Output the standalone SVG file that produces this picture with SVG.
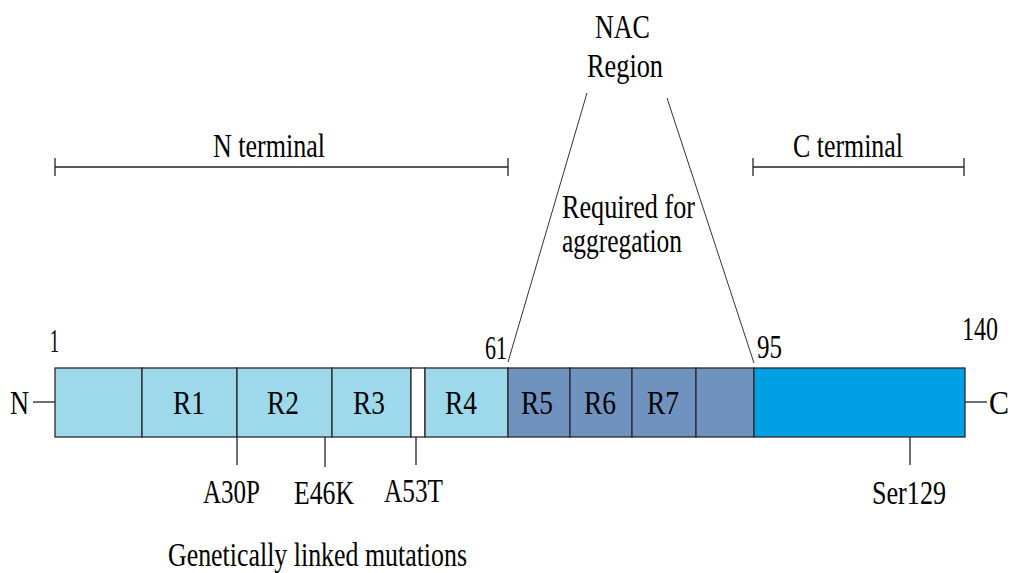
<svg xmlns="http://www.w3.org/2000/svg" width="1011" height="573" viewBox="0 0 1011 573" font-family="'Liberation Serif', 'DejaVu Serif', 'Times New Roman', serif">
<style>
text{font-size:34px;fill:#000}
.ln{stroke:#222;stroke-width:1.3;fill:none}
.thin{stroke:#333;stroke-width:1;fill:none}
.seg{stroke:#2a2a2a;stroke-width:1.3}
.lb{fill:#9dd9ea}
.db{fill:#7092bf}
.bb{fill:#00a1e4}
</style>
<rect width="1011" height="573" fill="#fff"/>
<g id="connectors">
<line class="ln" x1="33" y1="402" x2="55" y2="402"/>
<line class="ln" x1="965" y1="402" x2="987" y2="402"/>
<line class="ln" x1="237" y1="437" x2="237" y2="465"/>
<line class="ln" x1="325" y1="437" x2="325" y2="467"/>
<line class="ln" x1="416" y1="437" x2="416" y2="465"/>
<line class="ln" x1="910" y1="437" x2="910" y2="465"/>
<line class="thin" x1="587" y1="93" x2="508" y2="362"/>
<line class="thin" x1="667" y1="98" x2="754" y2="363"/>
<line class="ln" x1="55" y1="167" x2="508" y2="167"/>
<line class="ln" x1="55" y1="158" x2="55" y2="176"/>
<line class="ln" x1="508" y1="158" x2="508" y2="176"/>
<line class="ln" x1="753" y1="167" x2="964" y2="167"/>
<line class="ln" x1="753" y1="158" x2="753" y2="176"/>
<line class="ln" x1="964" y1="158" x2="964" y2="176"/>
</g>
<g id="seg0"><rect class="lb seg" x="55" y="368" width="87" height="69"/></g>
<g id="R1"><rect class="lb seg" x="142" y="368" width="95" height="69"/><text x="189" y="414" text-anchor="middle" textLength="32" lengthAdjust="spacingAndGlyphs">R1</text></g>
<g id="R2"><rect class="lb seg" x="237" y="368" width="95" height="69"/><text x="283" y="414" text-anchor="middle" textLength="32" lengthAdjust="spacingAndGlyphs">R2</text></g>
<g id="R3"><rect class="lb seg" x="332" y="368" width="79" height="69"/><text x="369" y="414" text-anchor="middle" textLength="32" lengthAdjust="spacingAndGlyphs">R3</text></g>
<g id="gap"><rect x="411" y="368" width="14" height="69" fill="#fff" class="seg"/></g>
<g id="R4"><rect class="lb seg" x="425" y="368" width="83" height="69"/><text x="461" y="414" text-anchor="middle" textLength="32" lengthAdjust="spacingAndGlyphs">R4</text></g>
<g id="R5"><rect class="db seg" x="508" y="368" width="62" height="69"/><text x="537" y="414" text-anchor="middle" textLength="32" lengthAdjust="spacingAndGlyphs">R5</text></g>
<g id="R6"><rect class="db seg" x="570" y="368" width="62" height="69"/><text x="600" y="414" text-anchor="middle" textLength="32" lengthAdjust="spacingAndGlyphs">R6</text></g>
<g id="R7"><rect class="db seg" x="632" y="368" width="64" height="69"/><text x="663" y="414" text-anchor="middle" textLength="32" lengthAdjust="spacingAndGlyphs">R7</text></g>
<g id="seg8"><rect class="db seg" x="696" y="368" width="58" height="69"/></g>
<g id="cterm-bar"><rect class="bb seg" x="754" y="368" width="211" height="69"/></g>
<g id="labels">
<text x="10" y="414" textLength="19" lengthAdjust="spacingAndGlyphs">N</text>
<text x="989" y="414" textLength="20" lengthAdjust="spacingAndGlyphs">C</text>
<text x="50" y="352" textLength="9" lengthAdjust="spacingAndGlyphs">1</text>
<text x="485" y="359" textLength="22" lengthAdjust="spacingAndGlyphs">61</text>
<text x="757" y="358" textLength="25" lengthAdjust="spacingAndGlyphs">95</text>
<text x="962" y="340" textLength="36" lengthAdjust="spacingAndGlyphs">140</text>
<text x="213" y="157" textLength="112" lengthAdjust="spacingAndGlyphs">N terminal</text>
<text x="793" y="157" textLength="110" lengthAdjust="spacingAndGlyphs">C terminal</text>
<text x="595" y="38" textLength="55" lengthAdjust="spacingAndGlyphs">NAC</text>
<text x="587" y="77" textLength="76" lengthAdjust="spacingAndGlyphs">Region</text>
<text x="562" y="218" textLength="133" lengthAdjust="spacingAndGlyphs">Required for</text>
<text x="562" y="252" textLength="120" lengthAdjust="spacingAndGlyphs">aggregation</text>
<text x="203" y="503" textLength="57" lengthAdjust="spacingAndGlyphs">A30P</text>
<text x="294" y="504" textLength="60" lengthAdjust="spacingAndGlyphs">E46K</text>
<text x="384" y="502" textLength="59" lengthAdjust="spacingAndGlyphs">A53T</text>
<text x="872" y="504" textLength="74" lengthAdjust="spacingAndGlyphs">Ser129</text>
<text x="168" y="566" textLength="299" lengthAdjust="spacingAndGlyphs">Genetically linked mutations</text>
</g>
</svg>
